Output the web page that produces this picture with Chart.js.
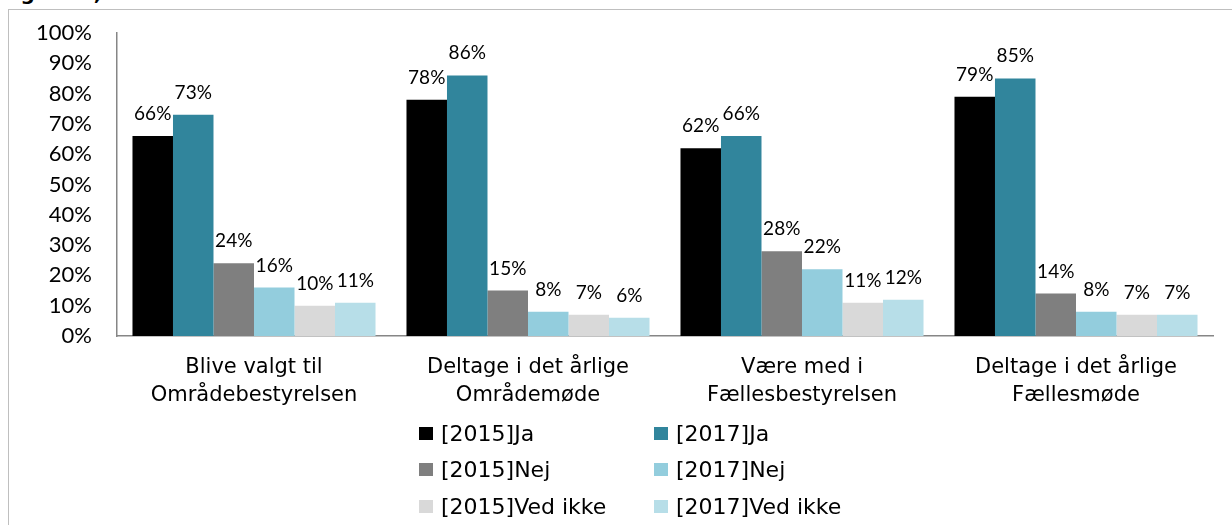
<!DOCTYPE html>
<html>
<head>
<meta charset="utf-8">
<script src="https://cdn.jsdelivr.net/npm/chart.js@4/dist/chart.umd.min.js"></script>
<style>
  html, body { margin: 0; padding: 0; background: #fff; overflow: hidden; }
  #wrap { position: relative; width: 1232px; height: 525px; }
  #frame { position: absolute; left: 8px; top: 9px; right: -2px; bottom: -2px;
           border-left: 1px solid #bfbfbf; border-top: 1px solid #bfbfbf; }
  #fig { position: absolute; left: 0; top: -19px; font: bold 20px "DejaVu Sans", sans-serif; color: #000; }
  canvas { position: absolute; left: 0; top: 0; }
  #legend { position: absolute; left: 419px; top: 415px; display: grid;
            grid-template-columns: 235px 200px; row-gap: 0; }
  .item { display: flex; align-items: center; height: 36.5px;
          font: 22px "DejaVu Sans", sans-serif; color: #000; white-space: nowrap; }
  .box { width: 14px; height: 13px; margin-right: 8px; flex: none; }
</style>
</head>
<body>
<div id="wrap">
  <div id="frame"></div>
  <div id="fig">Figur 10, </div>
  <canvas id="chart" width="1232" height="525"></canvas>
  <div id="legend"></div>
</div>
<script>
const categories = [
  ['Blive valgt til', 'Områdebestyrelsen'],
  ['Deltage i det årlige', 'Områdemøde'],
  ['Være med i', 'Fællesbestyrelsen'],
  ['Deltage i det årlige', 'Fællesmøde']
];
const seriesNames = ['[2015]Ja', '[2017]Ja', '[2015]Nej', '[2017]Nej', '[2015]Ved ikke', '[2017]Ved ikke'];
const ja2015 = [66, 78, 62, 79];
const ja2017 = [73, 86, 66, 85];
const nej2015 = [24, 15, 28, 14];
const nej2017 = [16, 8, 22, 8];
const vedIkke2015 = [10, 7, 11, 7];
const vedIkke2017 = [11, 6, 12, 7];
const yTicks = [0, 10, 20, 30, 40, 50, 60, 70, 80, 90, 100];

const colors = ['#000000', '#31859c', '#7f7f7f', '#93cddd', '#d9d9d9', '#b7dee8'];
const seriesData = [ja2015, ja2017, nej2015, nej2017, vedIkke2015, vedIkke2017];

const valueLabels = {
  id: 'valueLabels',
  afterDatasetsDraw(chart) {
    const ctx = chart.ctx;
    ctx.save();
    ctx.font = '19px Lato, sans-serif';
    ctx.fillStyle = '#000';
    ctx.textAlign = 'center';
    ctx.textBaseline = 'alphabetic';
    chart.data.datasets.forEach((ds, i) => {
      chart.getDatasetMeta(i).data.forEach((bar, j) => {
        ctx.fillText(ds.data[j] + '%', bar.x, bar.y - 16);
      });
    });
    ctx.restore();
  }
};

const chart = new Chart(document.getElementById('chart'), {
  type: 'bar',
  data: {
    labels: categories,
    datasets: seriesNames.map((name, i) => ({
      label: name,
      data: seriesData[i],
      backgroundColor: colors[i],
      borderWidth: 0,
      barPercentage: 1,
      categoryPercentage: 0.887
    }))
  },
  options: {
    responsive: false,
    animation: false,
    devicePixelRatio: 1,
    layout: { padding: { top: 33, right: 19, bottom: 109, left: 0 } },
    plugins: { legend: { display: false }, tooltip: { enabled: false } },
    scales: {
      x: {
        grid: { display: false, drawTicks: false },
        border: { color: '#868686', width: 1.5 },
        ticks: {
          color: '#000',
          padding: 17,
          font: { family: '"DejaVu Sans", sans-serif', size: 21, lineHeight: 1.35 },
          maxRotation: 0
        },
        afterFit: s => { s.height = 80; }
      },
      y: {
        min: 0,
        max: 100,
        afterBuildTicks: s => { s.ticks = yTicks.map(v => ({ value: v })); },
        grid: { display: false, drawTicks: false },
        border: { color: '#868686', width: 1.5 },
        ticks: {
          color: '#000',
          padding: 25,
          autoSkip: false,
          font: { family: 'Lato, sans-serif', size: 22 },
          callback: v => v + '%'
        },
        afterFit: s => { s.width = 117; s.paddingTop = 0; s.paddingBottom = 0; }
      }
    }
  },
  plugins: [valueLabels]
});

// legend in two columns, like the original
const legend = document.getElementById('legend');
seriesNames.forEach((name, i) => {
  const item = document.createElement('div');
  item.className = 'item';
  item.innerHTML = `<span class="box" style="background:${colors[i]}"></span><span>${name}</span>`;
  legend.appendChild(item);
});
</script>
</body>
</html>
